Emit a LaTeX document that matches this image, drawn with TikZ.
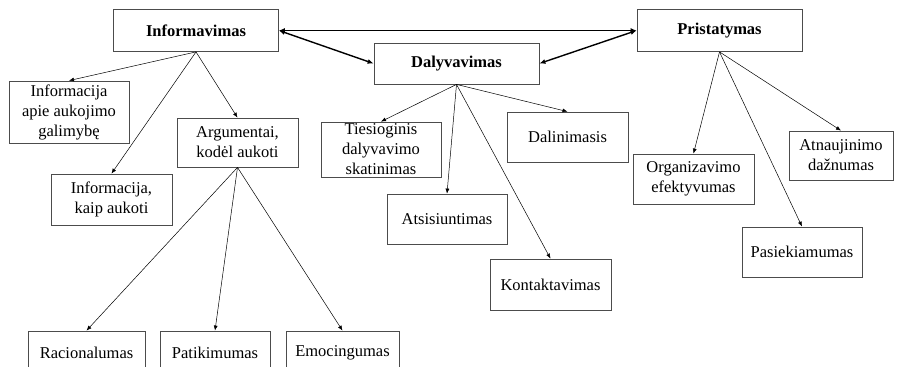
\documentclass[tikz,border=0pt]{standalone}
\usepackage{fontspec}
\setmainfont{Liberation Serif}
\usepackage{tikz}
\usetikzlibrary{arrows.meta, positioning}

\begin{document}
\begin{tikzpicture}[
        x=1pt, y=-1pt,
        entity/.style={
          rectangle,
          draw=black!70,
          line width=0.8pt,
          inner sep=1pt,
          align=center,
          font=\fontsize{16.5}{20}\selectfont
        },
        head/.style={
          entity,
          minimum width=165pt,
          minimum height=42pt,
          font=\fontsize{16.5}{20}\selectfont\bfseries
        },
        arrow/.style={
          -{Latex[length=5pt,width=4pt]},
          line width=0.5pt
        },
        link/.style={
          {Latex[length=6pt,width=5pt]}-{Latex[length=6pt,width=5pt]},
          line width=1.4pt
        }
      ]

      \useasboundingbox (0,0) rectangle (903,367);
      \clip (0,0) rectangle (903,367);

      % Main entities
      \node[head] (inform) at (196,30.5) {Informavimas};
      \node[head, minimum height=41pt] (dalyv) at (456.5,63.5) {Dalyvavimas};
      \node[head] (prist) at (719.5,30.5) {Pristatymas};

      % Informavimas branch
      \node[entity, minimum width=120pt, minimum height=62pt] (apie) at (69,112) {Informacija\\apie aukojimo\\galimybę};
      \node[entity, minimum width=121pt, minimum height=49pt] (argum) at (237.5,142.5) {Argumentai,\\kodėl aukoti};
      \node[entity, minimum width=121pt, minimum height=51pt] (kaip) at (111.5,199.5) {Informacija,\\kaip aukoti};
      \node[entity, minimum width=117pt, minimum height=44pt] (racio) at (86.5,353) {Racionalumas};
      \node[entity, minimum width=110pt, minimum height=44pt] (patik) at (215,353) {Patikimumas};
      \node[entity, minimum width=113pt, minimum height=44pt] (emoc) at (342.5,353) {Emocingumas};

      % Dalyvavimas branch
      \node[entity, minimum width=120pt, minimum height=55pt] (ties) at (381,149.5) {Tiesioginis\\dalyvavimo\\skatinimas};
      \node[entity, minimum width=121pt, minimum height=50pt] (dalin) at (567.5,137) {Dalinimasis};
      \node[entity, minimum width=120pt, minimum height=50pt] (atsis) at (447,219) {Atsisiuntimas};
      \node[entity, minimum width=121pt, minimum height=51pt] (kontakt) at (550.5,284.5) {Kontaktavimas};

      % Pristatymas branch
      \node[entity, minimum width=121pt, minimum height=50pt] (organ) at (693.5,179) {Organizavimo\\efektyvumas};
      \node[entity, minimum width=104pt, minimum height=49pt] (atnauj) at (841,155.5) {Atnaujinimo\\dažnumas};
      \node[entity, minimum width=120pt, minimum height=50pt] (pasiek) at (802,252) {Pasiekiamumas};

      % Links between main entities
      \draw[link] (inform.east) -- (prist.west);
      \draw[link] (inform.east) -- (dalyv.west);
      \draw[link] (dalyv.east) -- (prist.west);

      % Arrows
      \draw[arrow] (inform.south) -- (apie.north);
      \draw[arrow] (inform.south) -- (kaip.north);
      \draw[arrow] (inform.south) -- (argum.north);
      \draw[arrow] (argum.south) -- (racio.north);
      \draw[arrow] (argum.south) -- (patik.north);
      \draw[arrow] (argum.south) -- (emoc.north);

      \draw[arrow] (dalyv.south) -- (ties.north);
      \draw[arrow] (dalyv.south) -- (atsis.north);
      \draw[arrow] (dalyv.south) -- (dalin.north);
      \draw[arrow] (dalyv.south) -- (kontakt.north);

      \draw[arrow] (prist.south) -- (organ.north);
      \draw[arrow] (prist.south) -- (atnauj.north);
      \draw[arrow] (prist.south) -- (pasiek.north);

    \end{tikzpicture}
\end{document}
